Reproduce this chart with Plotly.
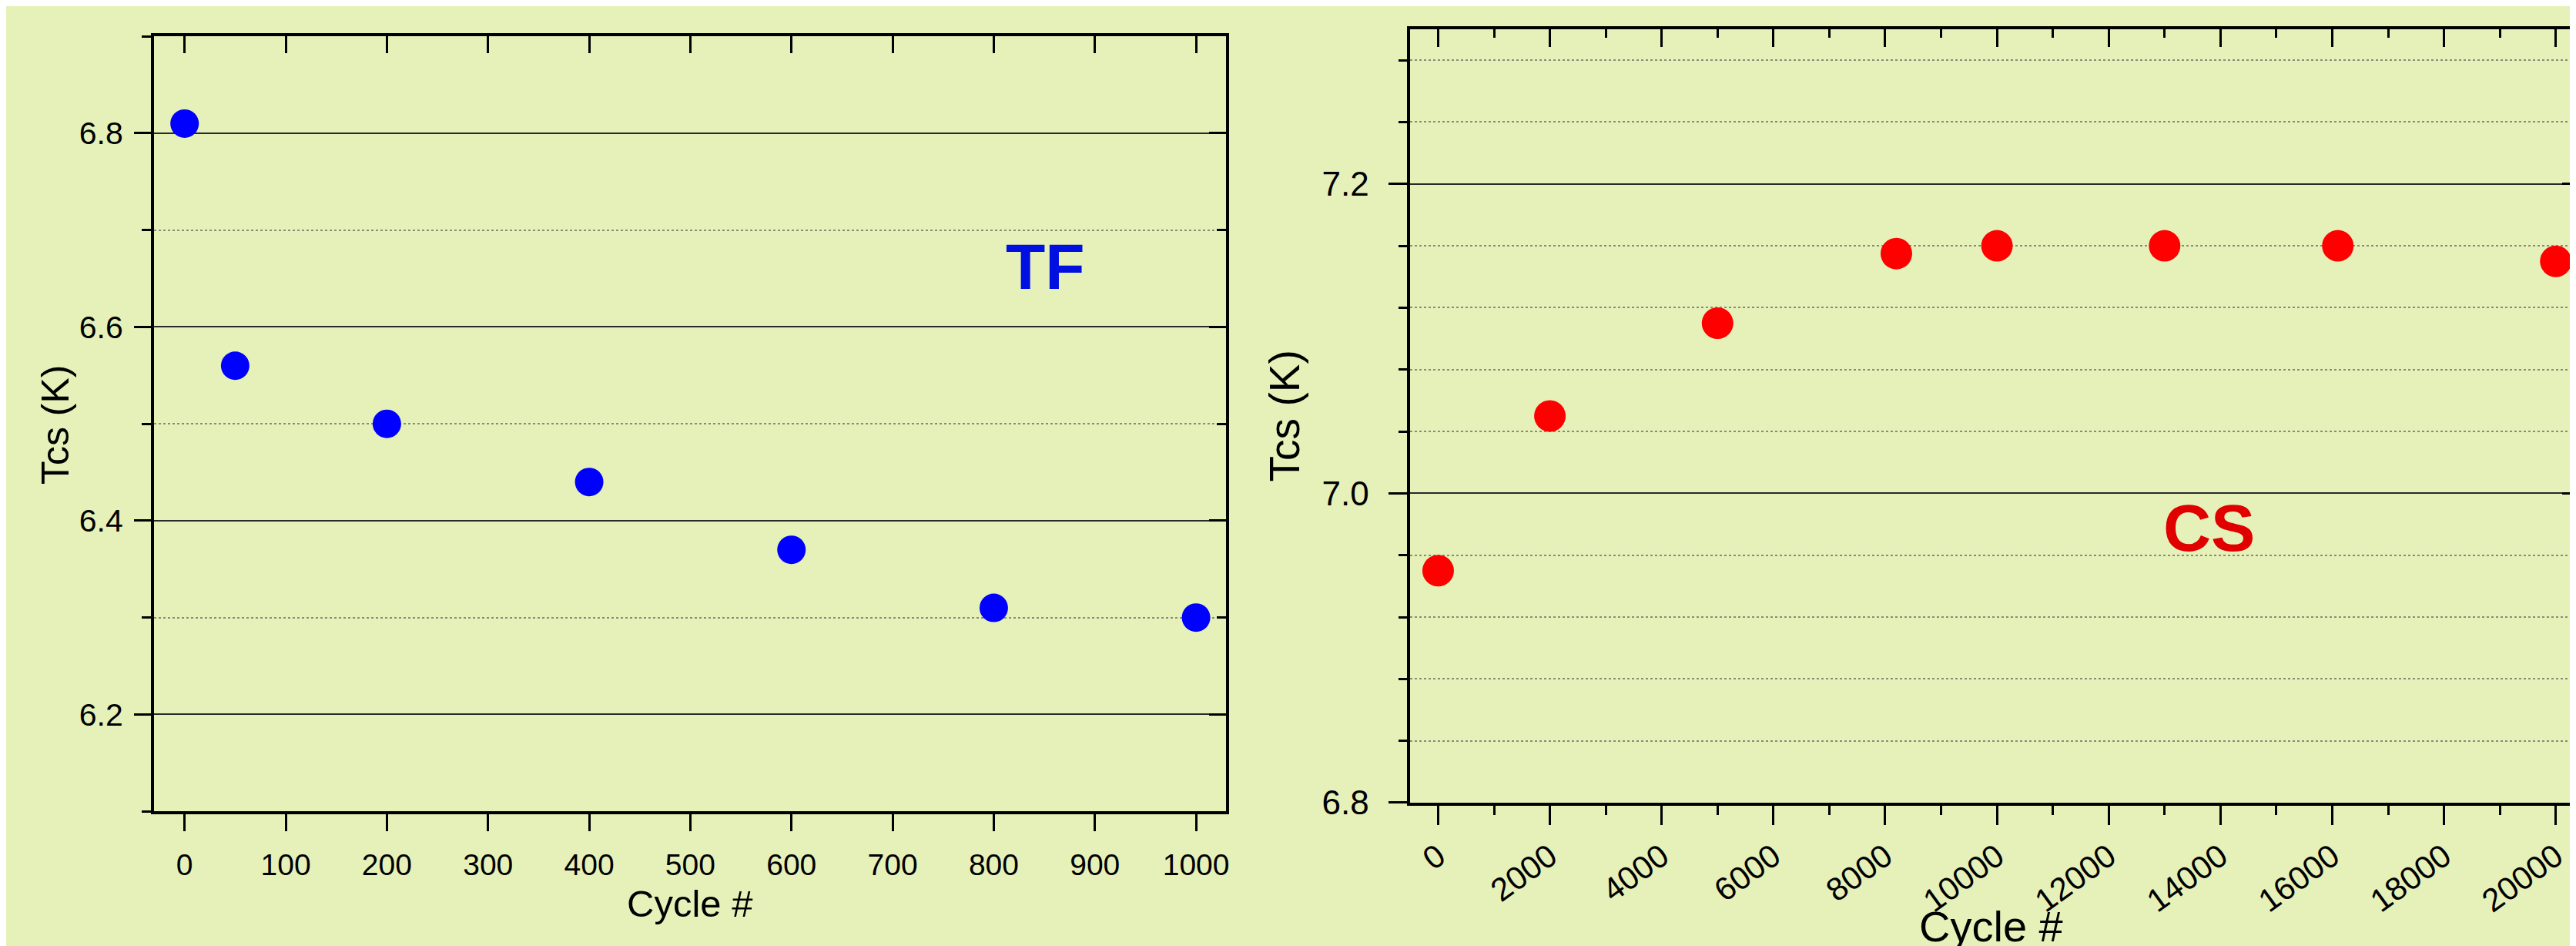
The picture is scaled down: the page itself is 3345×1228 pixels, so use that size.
import plotly.graph_objects as go

# ---------------- data ----------------
tf_cycles = [0, 50, 200, 400, 600, 800, 1000]
tf_tcs = [6.81, 6.56, 6.50, 6.44, 6.37, 6.31, 6.30]

cs_cycles = [0, 2000, 5000, 8200, 10000, 13000, 16100, 20000]
cs_tcs = [6.95, 7.05, 7.11, 7.155, 7.16, 7.16, 7.16, 7.15]

tf_label = "TF"
cs_label = "CS"
x_title = "Cycle #"
y_title = "Tcs (K)"

# ---------------- style ----------------
W, H = 3345, 1228
BG = "#e6f1b9"
FONT = "Liberation Sans, Arial, sans-serif"

L_X = [192 / W, 1586 / W]
L_Y = [1 - 1066 / H, 1 - 40 / H]
R_X = [1825.5 / W, 1.0]
R_Y = [1 - 1054.6 / H, 1 - 30.6 / H]

L_XR = [-30.4, 1029.7]
L_YR = [6.1, 6.9]
R_XR = [-498, 20417]
R_YR = [6.8, 7.3]

fig = go.Figure()
fig.add_trace(go.Scatter(x=tf_cycles, y=tf_tcs, mode="markers",
                         marker=dict(color="#0000ff", size=37),
                         xaxis="x", yaxis="y", showlegend=False))
fig.add_trace(go.Scatter(x=cs_cycles, y=cs_tcs, mode="markers",
                         marker=dict(color="#ff0000", size=41),
                         xaxis="x2", yaxis="y2", showlegend=False))
# empty traces so that the mirrored (inward-tick) axes get drawn
fig.add_trace(go.Scatter(x=[], y=[], xaxis="x3", yaxis="y3", showlegend=False,
                         hoverinfo="skip"))
fig.add_trace(go.Scatter(x=[], y=[], xaxis="x4", yaxis="y4", showlegend=False,
                         hoverinfo="skip"))

axline = dict(showline=True, linecolor="black", linewidth=3.5, zeroline=False)
tickc = dict(tickcolor="black", tickwidth=3)

layout = dict(
    width=W, height=H,
    margin=dict(l=0, r=0, t=0, b=0),
    paper_bgcolor=BG, plot_bgcolor=BG,
    font=dict(family=FONT, color="black"),
    showlegend=False,
    # ---- left panel ----
    xaxis=dict(domain=L_X, anchor="y", range=L_XR, tick0=0, dtick=100,
               ticks="outside", ticklen=22, showgrid=False, mirror=True,
               ticklabelstandoff=10, tickformat="d",
               tickfont=dict(size=39), **axline, **tickc),
    yaxis=dict(domain=L_Y, anchor="x", range=L_YR, tick0=0, dtick=0.2,
               tickformat=".1f", ticks="outside", ticklen=22, mirror=True,
               showgrid=True, gridcolor="#2a2a2a", gridwidth=1.5,
               ticklabelstandoff=6, tickfont=dict(size=41),
               minor=dict(dtick=0.1, tick0=0, ticks="outside", ticklen=12,
                          tickwidth=3, tickcolor="black", showgrid=True,
                          griddash="dot", gridcolor="#8a8a7a", gridwidth=1.5),
               **axline, **tickc),
    xaxis3=dict(overlaying="x", anchor="y", side="top", range=L_XR, tick0=0,
                dtick=100, ticks="inside", ticklen=22, showticklabels=False,
                showgrid=False, showline=False, zeroline=False, **tickc),
    yaxis3=dict(overlaying="y", anchor="x", side="right", range=L_YR, tick0=0,
                dtick=0.2, ticks="inside", ticklen=22, showticklabels=False,
                showgrid=False, showline=False, zeroline=False,
                minor=dict(dtick=0.1, tick0=0, ticks="inside", ticklen=12,
                           tickwidth=3, tickcolor="black"),
                **tickc),
    # ---- right panel ----
    xaxis2=dict(domain=R_X, anchor="y2", range=R_XR, tick0=0, dtick=2000,
                ticks="outside", ticklen=25, showgrid=False, mirror=True,
                tickangle=-36, tickfont=dict(size=42), tickformat="d",
                minor=dict(dtick=1000, tick0=0, ticks="outside", ticklen=12,
                           tickwidth=3, tickcolor="black"),
                **axline, **tickc),
    yaxis2=dict(domain=R_Y, anchor="x2", range=R_YR, tick0=0, dtick=0.2,
                tickformat=".1f", ticks="outside", ticklen=25, mirror=True,
                showgrid=True, gridcolor="#2a2a2a", gridwidth=1.5,
                ticklabelstandoff=16, tickfont=dict(size=44),
                minor=dict(dtick=0.04, tick0=0, ticks="outside", ticklen=12,
                           tickwidth=3, tickcolor="black", showgrid=True,
                           griddash="dot", gridcolor="#8a8a7a", gridwidth=1.5),
                **axline, **tickc),
    xaxis4=dict(overlaying="x2", anchor="y2", side="top", range=R_XR, tick0=0,
                dtick=2000, ticks="inside", ticklen=23, showticklabels=False,
                showgrid=False, showline=False, zeroline=False,
                minor=dict(dtick=1000, tick0=0, ticks="inside", ticklen=11,
                           tickwidth=3, tickcolor="black"),
                **tickc),
    yaxis4=dict(overlaying="y2", anchor="x2", side="right", range=R_YR, tick0=0,
                dtick=0.2, ticks="inside", ticklen=22, showticklabels=False,
                showgrid=False, showline=False, zeroline=False,
                minor=dict(dtick=0.04, tick0=0, ticks="inside", ticklen=10,
                           tickwidth=3, tickcolor="black"),
                **tickc),
)
fig.update_layout(**layout)

annots = [
    dict(text=y_title, x=64 / W, y=1 - 554 / H, xref="paper", yref="paper",
         textangle=-90, showarrow=False, font=dict(size=50),
         xanchor="center", yanchor="middle"),
    dict(text=x_title, x=889 / W, y=1 - 1188 / H, xref="paper", yref="paper",
         showarrow=False, font=dict(size=49), xanchor="center", yanchor="middle"),
    dict(text=y_title, x=1662 / W, y=1 - 543 / H, xref="paper", yref="paper",
         textangle=-90, showarrow=False, font=dict(size=55),
         xanchor="center", yanchor="middle"),
    dict(text=x_title, x=2581 / W, y=1 - 1218 / H, xref="paper", yref="paper",
         showarrow=False, font=dict(size=56), xanchor="center", yanchor="middle"),
    dict(text="<b>" + tf_label + "</b>", x=851, y=6.6625, xref="x", yref="y",
         showarrow=False, font=dict(size=84, color="#0010e0"),
         xanchor="center", yanchor="middle"),
    dict(text="<b>" + cs_label + "</b>", x=13796, y=6.978, xref="x2", yref="y2",
         showarrow=False, font=dict(size=86, color="#e00000"),
         xanchor="center", yanchor="middle"),
]
fig.update_layout(annotations=annots)

fig.write_html("out.html")
